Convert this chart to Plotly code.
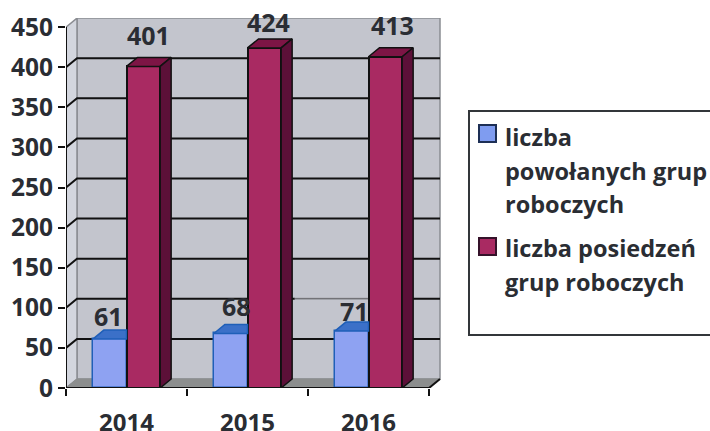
import plotly.graph_objects as go

years = ["2014", "2015", "2016"]
powolanych = [61, 68, 71]
posiedzen = [401, 424, 413]
y_ticks = [0, 50, 100, 150, 200, 250, 300, 350, 400, 450]
legend_blue = ["liczba", "powołanych grup", "roboczych"]
legend_red = ["liczba posiedzeń", "grup roboczych"]

W, H = 710, 431
L, R, T, B = 66, 441, 18, 388
XMAX = (R - L) / 121.0
YMAX = (B - T) / 0.802
DX, DY = 11 / 121.0, 9 / 0.802
BW = 0.278
BLUE_OFF, RED_OFF = 0.222, 0.500
FONT = "Open Sans"
INK = "#2a2d33"
WALL = "#c3c5cd"

fig = go.Figure()
n = len(years)
fig.add_trace(go.Bar(x=[i + BLUE_OFF + BW / 2 for i in range(n)], y=powolanych, width=BW,
                     marker=dict(color="#8ea2f2", line=dict(color="#1f5fb8", width=1.5)), showlegend=False))
fig.add_trace(go.Bar(x=[i + RED_OFF + BW / 2 for i in range(n)], y=posiedzen, width=BW,
                     marker=dict(color="#a92a62", line=dict(color="#111111", width=2)), showlegend=False))


def poly(xs, ys, fill, line, lw=1.5):
    fig.add_trace(go.Scatter(x=xs, y=ys, mode="lines", fill="toself", fillcolor=fill,
                             line=dict(color=line, width=lw), hoverinfo="skip",
                             showlegend=False, cliponaxis=False))


for i in range(n):
    x0, x1 = i + BLUE_OFF, i + BLUE_OFF + BW
    v = powolanych[i]
    # top face of the blue bar, hidden to the right by the red bar in front of it
    poly([x0, x1, x1, x0 + DX, x0], [v, v, v + DY, v + DY, v], "#3b70c8", "#1f5fb8")
    x0, x1 = i + RED_OFF, i + RED_OFF + BW
    v = posiedzen[i]
    poly([x0, x1, x1 + DX, x0 + DX, x0], [v, v, v + DY, v + DY, v], "#7d1545", "#111111", 1.5)
    poly([x1, x1 + DX, x1 + DX, x1, x1], [0, DY, v + DY, v, 0], "#5c1038", "#111111", 1.5)

# axis lines
fig.add_trace(go.Scatter(x=[0, 0, n], y=[y_ticks[-1], 0, 0], mode="lines",
                         line=dict(color="#111111", width=2), hoverinfo="skip",
                         showlegend=False, cliponaxis=False))

shapes = []
# back wall, side wall, floor
top = y_ticks[-1] + DY
shapes.append(dict(type="path", layer="below", xref="x", yref="y",
                   path=f"M{DX},{DY} L{n + DX},{DY} L{n + DX},{top} L{DX},{top} Z",
                   fillcolor=WALL, line=dict(color="#8b8d92", width=1.5)))
shapes.append(dict(type="path", layer="below", xref="x", yref="y",
                   path=f"M0,0 L{DX},{DY} L{DX},{top} L0,{y_ticks[-1]} Z",
                   fillcolor="#d3d6de", line=dict(color="#8b8d92", width=1.5)))
shapes.append(dict(type="path", layer="below", xref="x", yref="y",
                   path=f"M0,0 L{n},0 L{n + DX},{DY} L{DX},{DY} Z",
                   fillcolor="#8c8e8e", line=dict(color="#8c8e8e", width=1)))
# gridlines on the wall with their diagonal run to the axis
for t in y_ticks[1:-1]:
    shapes.append(dict(type="path", layer="below", xref="x", yref="y",
                       path=f"M0,{t} L{DX},{t + DY} L{n + DX},{t + DY}",
                       line=dict(color="#111111", width=2)))
shapes.append(dict(type="line", layer="below", xref="x", yref="y",
                   x0=n, y0=0, x1=n + DX, y1=DY, line=dict(color="#111111", width=2)))
# the 100 gridline is thinner behind the "71" label
gx0, gx1 = 1.89, 2.5
shapes.append(dict(type="line", layer="below", xref="x", yref="y", x0=gx0, x1=gx1,
                   y0=100 + DY, y1=100 + DY, line=dict(color=WALL, width=3)))
shapes.append(dict(type="line", layer="below", xref="x", yref="y", x0=gx0, x1=gx1,
                   y0=100 + DY, y1=100 + DY, line=dict(color="#333333", width=0.8)))


# legend box and swatches, page pixels converted to plot-area fractions
def px_x(p): return (p - L) / (R - L)
def px_y(p): return (B - p) / (B - T)


shapes.append(dict(type="rect", xref="paper", yref="paper", x0=px_x(469), x1=px_x(712),
                   y0=px_y(335), y1=px_y(111), line=dict(color="#33363a", width=2), fillcolor="white"))
shapes.append(dict(type="rect", xref="paper", yref="paper", x0=px_x(479), x1=px_x(496),
                   y0=px_y(142), y1=px_y(125), line=dict(color="#1d2f55", width=2), fillcolor="#7f9cf0"))
shapes.append(dict(type="rect", xref="paper", yref="paper", x0=px_x(479), x1=px_x(496),
                   y0=px_y(255), y1=px_y(238), line=dict(color="#35122a", width=2), fillcolor="#a92a62"))

ann = []
blue_shift = [(-1, -5), (6, -1), (3, -8)]
red_shift = [(5, 3), (4, -2), (7, 4)]
for i in range(n):
    v = powolanych[i]
    dx, dy = blue_shift[i]
    ann.append(dict(x=i + BLUE_OFF + BW / 2, y=v + DY, text=str(v), xref="x", yref="y", showarrow=False,
                    yanchor="bottom", xshift=dx, yshift=dy,
                    font=dict(family=FONT, size=25, color=INK, weight=700)))
    v = posiedzen[i]
    dx, dy = red_shift[i]
    ann.append(dict(x=i + RED_OFF + BW / 2, y=v + DY, text=str(v), xref="x", yref="y", showarrow=False,
                    yanchor="bottom", xshift=dx, yshift=dy,
                    font=dict(family=FONT, size=25, color=INK, weight=700)))

for text, py in list(zip(legend_blue, [137, 171, 204])) + list(zip(legend_red, [248, 282])):
    ann.append(dict(x=px_x(505), y=px_y(py), xref="paper", yref="paper", text=text, showarrow=False,
                    xanchor="left", yanchor="middle", xshift=-2,
                    font=dict(family=FONT, size=23.5, color=INK, weight=700)))

fig.update_layout(
    width=W, height=H, autosize=False, barmode="overlay", bargap=0,
    paper_bgcolor="white", plot_bgcolor="white",
    margin=dict(l=L, r=W - R, t=T, b=H - B, pad=0),
    shapes=shapes, annotations=ann, showlegend=False,
    xaxis=dict(range=[0, XMAX], automargin=False, showgrid=False, zeroline=False, showline=False,
               tickmode="array", tickvals=[i + 0.5 for i in range(n)], ticktext=years,
               ticks="outside", ticklen=13, tickcolor="rgba(0,0,0,0)",
               tickfont=dict(family=FONT, size=24, color=INK, weight=700),
               minor=dict(tickmode="array", tickvals=list(range(n + 1)), ticks="outside",
                          ticklen=7, tickwidth=2, tickcolor="#111111", showgrid=False)),
    yaxis=dict(range=[0, YMAX], automargin=False, showgrid=False, zeroline=False, showline=False,
               tickmode="array", tickvals=y_ticks, ticks="outside", ticklen=7, tickwidth=2,
               tickcolor="#111111",
               tickfont=dict(family=FONT, size=24.5, color=INK, weight=700)),
)
fig.write_html("out.html", config=dict(displayModeBar=False),
               post_script="document.body.style.margin='0';document.documentElement.style.overflow='hidden';")
